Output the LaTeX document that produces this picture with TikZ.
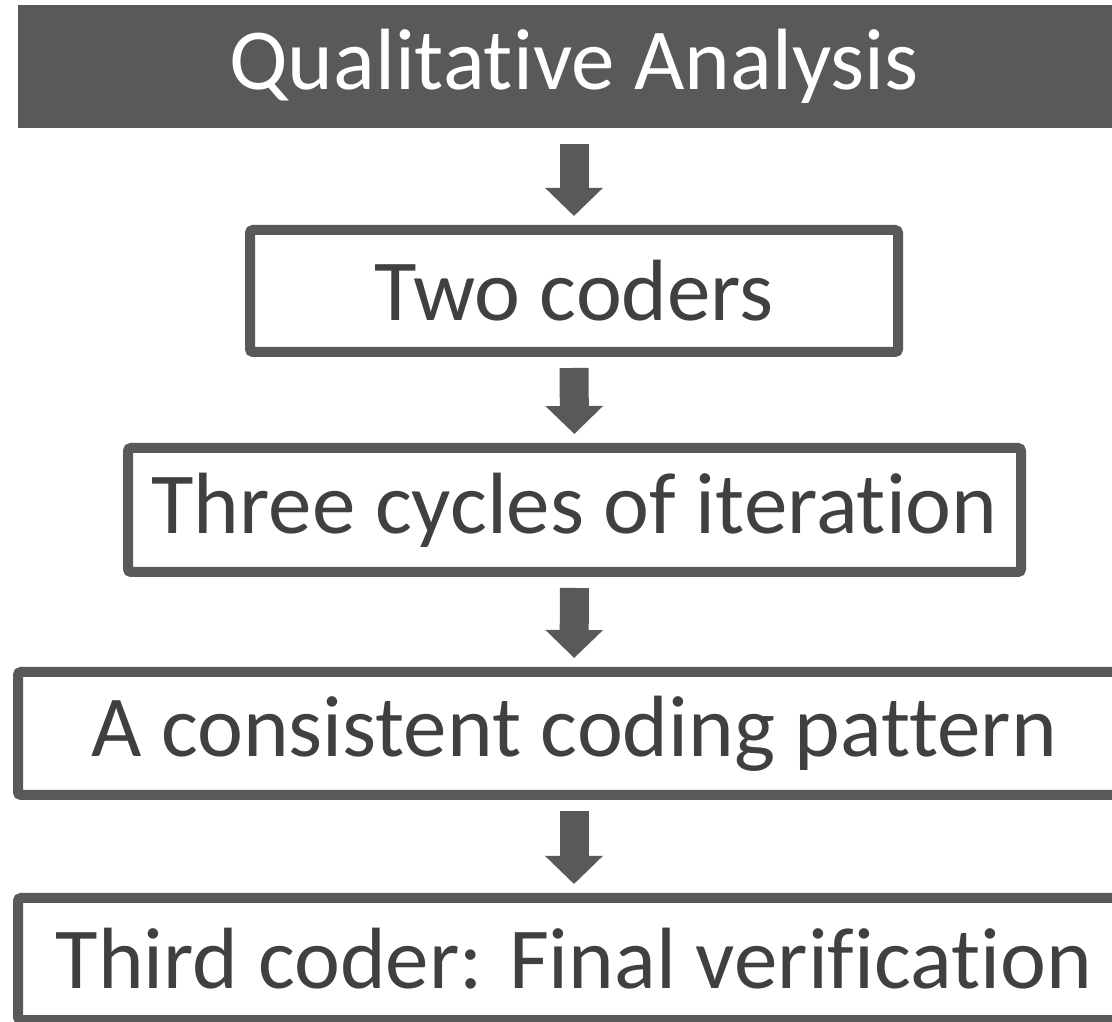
\documentclass[tikz,border=0pt]{standalone}
\usepackage{fontspec}
\setmainfont{Carlito}[Ligatures=NoCommon]
\usetikzlibrary{arrows.meta}
\definecolor{boxgray}{HTML}{595959}
\definecolor{textgray}{HTML}{404040}

\begin{document}
\begin{tikzpicture}[x=1pt,y=1pt]
        \tikzstyle{every node} = [draw=boxgray, line width=10pt, rounded corners=3pt, text=textgray, inner sep=0pt, font=\fontsize{87}{100}\selectfont];
        \tikzstyle{down} = [draw=boxgray, line width=29pt, -{Triangle[width=56pt,length=28pt]}, shorten <=11pt, shorten >=9pt];
        \useasboundingbox (0,0) rectangle (1112,1021);
        \node[fill=boxgray, draw=none, text=white, rounded corners=0pt, minimum width=1112pt, minimum height=123pt] (qa) at (574,954.5) {Qualitative Analysis};
        \node[minimum width=648pt, minimum height=122pt] (two) at (574,730) {Two coders};
        \node[minimum width=893pt, minimum height=124pt] (three) at (574.5,511) {Three cycles of iteration};
        \node[minimum width=1112pt, minimum height=123pt] (pattern) at (574,287.5) {A consistent coding pattern};
        \node[minimum width=1112pt, minimum height=122pt] (third) at (574,62) {Third coder: Final verification};
        \draw[down] (qa) -- (two);
        \draw[down] (two) -- (three);
        \draw[down] (three) -- (pattern);
        \draw[down] (pattern) -- (third);
\end{tikzpicture}
\end{document}
